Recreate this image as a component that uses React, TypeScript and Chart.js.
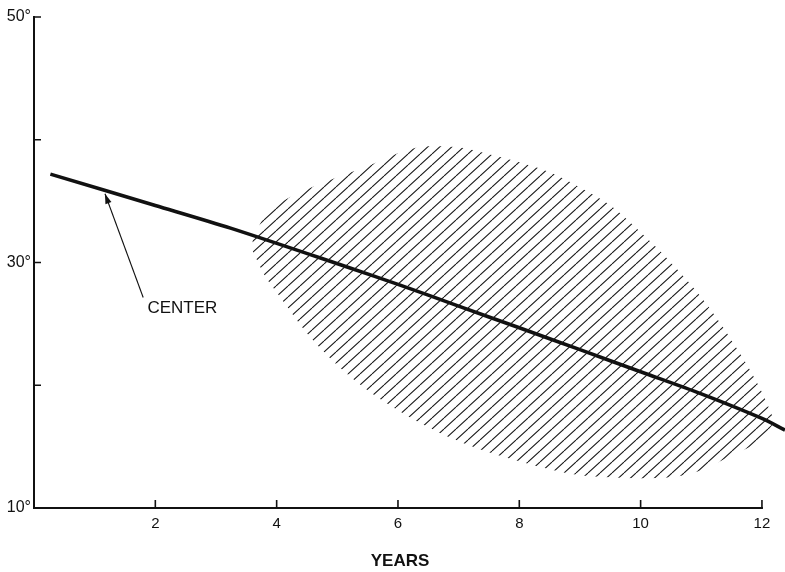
import React, { useEffect, useRef } from 'react';
import { Chart, registerables } from 'chart.js';

Chart.register(...registerables);

// Center line (years, degrees)
const centerYears = [0.27, 2, 3.24, 5.21, 6, 7, 8, 9, 10, 11, 12, 12.38];
const centerDeg = [37.2, 34.65, 32.8, 29.55, 28.22, 26.45, 24.68, 22.9, 21.1, 19.3, 17.3, 16.35];

// Hatched band boundaries
const bandYears = [3.6, 3.8, 4.0, 4.25, 4.5, 5.0, 5.5, 6.0, 6.5, 7.0, 7.5, 8.0, 8.5, 9.0, 9.5, 10.0, 10.5, 11.0, 11.5, 12.0, 12.2];
const bandUpper = [31.8, 33.76, 34.66, 35.4, 35.96, 36.94, 37.84, 38.9, 39.47, 39.39, 38.81, 38.16, 37.35, 36.12, 34.66, 32.46, 30.01, 27.17, 23.67, 19.43, 17.15];
const bandLower = [30.99, 28.96, 27.57, 25.86, 24.23, 21.63, 19.59, 17.96, 16.57, 15.43, 14.54, 13.8, 13.15, 12.66, 12.5, 12.42, 12.5, 13.07, 14.29, 15.67, 16.97];

// Axes
const xTicks = [2, 4, 6, 8, 10, 12];
const xTickLabels = ['2', '4', '6', '8', '10', '12'];
const yTicks = [10, 20, 30, 40, 50];
const yTickLabels = ['10°', '', '30°', '', '50°'];
const xTitle = 'YEARS';

// Annotation
const annotationText = 'CENTER';
const annotationTextAt = { x: 1.87, y: 26.3 };
const arrowFrom = { x: 1.8, y: 27.15 };
const arrowTo = { x: 1.17, y: 35.6 };

const FONT = '"Liberation Sans", "DejaVu Sans", Arial, sans-serif';
const INK = '#111';

function makeHatch(): CanvasPattern | string {
  const w = 12;
  const h = 11;
  const pc = document.createElement('canvas');
  pc.width = w;
  pc.height = h;
  const g = pc.getContext('2d');
  if (!g) return INK;
  g.strokeStyle = '#1a1a1a';
  g.lineWidth = 1.1;
  g.beginPath();
  for (let k = -1; k <= 1; k++) {
    g.moveTo(k * w, h);
    g.lineTo(k * w + w, 0);
  }
  g.stroke();
  const p = g.createPattern(pc, 'repeat');
  return p || INK;
}

const axesPlugin = {
  id: 'customAxes',
  afterDatasetsDraw(chart: any) {
    const { ctx, scales } = chart;
    const xs = scales.x;
    const ys = scales.y;
    const x0 = xs.getPixelForValue(0);
    const xEnd = xs.getPixelForValue(xTicks[xTicks.length - 1]);
    const yBottom = ys.getPixelForValue(yTicks[0]);
    const yTop = ys.getPixelForValue(yTicks[yTicks.length - 1]);
    ctx.save();
    ctx.strokeStyle = INK;
    ctx.lineCap = 'square';
    ctx.lineWidth = 2;
    ctx.beginPath();
    ctx.moveTo(x0, yTop);
    ctx.lineTo(x0, yBottom);
    ctx.lineTo(xEnd, yBottom);
    ctx.stroke();
    ctx.lineWidth = 1.6;
    ctx.lineCap = 'butt';
    ctx.beginPath();
    for (const v of yTicks) {
      if (v === yTicks[0]) continue;
      const py = ys.getPixelForValue(v);
      ctx.moveTo(x0, py);
      ctx.lineTo(x0 + 7, py);
    }
    for (const v of xTicks) {
      const px = xs.getPixelForValue(v);
      ctx.moveTo(px, yBottom);
      ctx.lineTo(px, yBottom - 8);
    }
    ctx.stroke();

    // annotation arrow
    const ax0 = xs.getPixelForValue(arrowFrom.x);
    const ay0 = ys.getPixelForValue(arrowFrom.y);
    const ax1 = xs.getPixelForValue(arrowTo.x);
    const ay1 = ys.getPixelForValue(arrowTo.y);
    ctx.lineWidth = 1.1;
    ctx.beginPath();
    ctx.moveTo(ax0, ay0);
    ctx.lineTo(ax1, ay1);
    ctx.stroke();
    const ang = Math.atan2(ay1 - ay0, ax1 - ax0);
    const len = 10;
    const half = 3.2;
    const bx = ax1 - len * Math.cos(ang);
    const by = ay1 - len * Math.sin(ang);
    ctx.fillStyle = INK;
    ctx.beginPath();
    ctx.moveTo(ax1, ay1);
    ctx.lineTo(bx + half * Math.sin(ang), by - half * Math.cos(ang));
    ctx.lineTo(bx - half * Math.sin(ang), by + half * Math.cos(ang));
    ctx.closePath();
    ctx.fill();

    ctx.font = `17px ${FONT}`;
    ctx.textAlign = 'left';
    ctx.textBaseline = 'middle';
    ctx.fillText(annotationText, xs.getPixelForValue(annotationTextAt.x), ys.getPixelForValue(annotationTextAt.y));
    ctx.restore();
  },
};

export default function App() {
  const ref = useRef<HTMLCanvasElement | null>(null);

  useEffect(() => {
    const canvas = ref.current;
    if (!canvas) return;
    const hatch = makeHatch();
    const chart = new Chart(canvas, {
      type: 'line',
      data: {
        datasets: [
          {
            label: 'upper',
            data: bandYears.map((x, i) => ({ x, y: bandUpper[i] })),
            borderWidth: 0,
            borderColor: 'rgba(0,0,0,0)',
            pointRadius: 0,
            cubicInterpolationMode: 'monotone',
            backgroundColor: hatch as any,
            fill: '+1',
            clip: false as any,
          },
          {
            label: 'lower',
            data: bandYears.map((x, i) => ({ x, y: bandLower[i] })),
            borderWidth: 0,
            borderColor: 'rgba(0,0,0,0)',
            pointRadius: 0,
            cubicInterpolationMode: 'monotone',
            fill: false,
            clip: false as any,
          },
          {
            label: 'center',
            data: centerYears.map((x, i) => ({ x, y: centerDeg[i] })),
            borderColor: INK,
            borderWidth: 3.6,
            pointRadius: 0,
            tension: 0.3,
            fill: false,
            clip: false as any,
          },
        ],
      },
      options: {
        animation: false,
        responsive: false,
        devicePixelRatio: 1,
        layout: { padding: { top: 17, left: 0, right: 0, bottom: 0 } },
        plugins: { legend: { display: false }, tooltip: { enabled: false } },
        scales: {
          x: {
            type: 'linear',
            min: 0,
            max: 12.38,
            grid: { display: false, drawTicks: false },
            border: { display: false },
            afterBuildTicks: (s: any) => {
              s.ticks = xTicks.map((v) => ({ value: v }));
            },
            afterFit: (s: any) => {
              s.height = 64;
            },
            ticks: {
              padding: 7,
              color: INK,
              maxRotation: 0,
              autoSkip: false,
              font: { family: FONT, size: 15 },
              callback: (v: any) => {
                const i = xTicks.indexOf(Number(v));
                return i >= 0 ? xTickLabels[i] : '';
              },
            },
            title: {
              display: true,
              text: xTitle + '    ',
              color: INK,
              padding: { top: 0, bottom: 0 },
              font: { family: FONT, size: 17, weight: 'bold' },
            },
          },
          y: {
            type: 'linear',
            min: 10,
            max: 50,
            grid: { display: false, drawTicks: false },
            border: { display: false },
            afterBuildTicks: (s: any) => {
              s.ticks = yTicks.map((v) => ({ value: v }));
            },
            afterFit: (s: any) => {
              s.width = 34;
            },
            ticks: {
              padding: 3,
              color: INK,
              autoSkip: false,
              font: { family: FONT, size: 16 },
              callback: (v: any) => {
                const i = yTicks.indexOf(Number(v));
                return i >= 0 ? yTickLabels[i] : '';
              },
            },
          },
        },
      },
      plugins: [axesPlugin],
    });
    return () => chart.destroy();
  }, []);

  return (
    <div style={{ position: 'absolute', left: 0, top: 0, width: 785, height: 572, background: '#fff' }}>
      <canvas ref={ref} width={785} height={572} style={{ display: 'block' }} />
    </div>
  );
}
